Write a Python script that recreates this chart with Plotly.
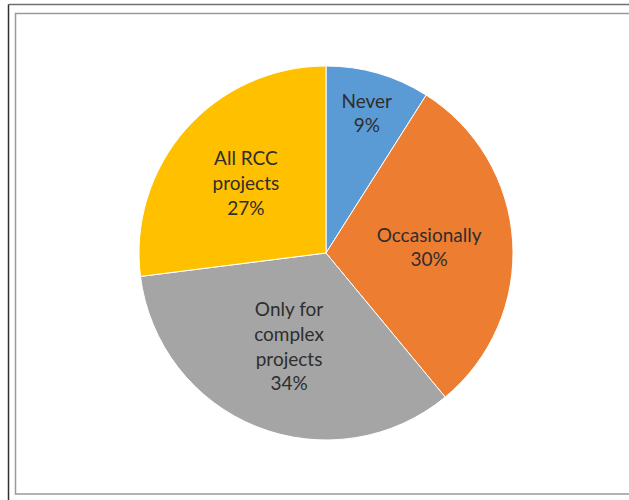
import plotly.graph_objects as go

# Survey responses: how often RCC design is used
categories = ["Never", "Occasionally", "Only for complex projects", "All RCC projects"]
label_lines = ["Never", "Occasionally", "Only for<br>complex<br>projects", "All RCC<br>projects"]
shares = [9, 30, 34, 27]
colors = ["#5B9BD5", "#ED7D31", "#A5A5A5", "#FFC000"]

W, H = 629, 500

fig = go.Figure(
    go.Pie(
        labels=categories,
        values=shares,
        text=label_lines,
        texttemplate="%{text}<br>%{percent:.0%}",
        textposition="inside",
        insidetextorientation="horizontal",
        textfont=dict(family="Lato, Carlito, sans-serif", size=19, color="#2E2E2E"),
        marker=dict(colors=colors, line=dict(color="#FFFFFF", width=1)),
        sort=False,
        direction="clockwise",
        rotation=0,
        showlegend=False,
        hoverinfo="label+percent",
        domain=dict(x=[(326 - 187) / W, (326 + 187) / W],
                    y=[1 - 440 / H, 1 - 66 / H]),
    )
)

# Outer frame lines and inner chart-area border
shapes = [
    dict(type="line", xref="paper", yref="paper",
         x0=8.5 / W, x1=1, y0=1 - 4.5 / H, y1=1 - 4.5 / H,
         line=dict(color="#707070", width=1.5)),
    dict(type="line", xref="paper", yref="paper",
         x0=8.5 / W, x1=8.5 / W, y0=0, y1=1 - 4.5 / H,
         line=dict(color="#303030", width=1.5)),
    dict(type="rect", xref="paper", yref="paper",
         x0=15.5 / W, x1=1.05, y0=1 - 494 / H, y1=1 - 13.5 / H,
         line=dict(color="#9A9A9A", width=1.5)),
]

fig.update_layout(
    width=W, height=H,
    margin=dict(l=0, r=0, t=0, b=0),
    paper_bgcolor="#FFFFFF",
    plot_bgcolor="#FFFFFF",
    shapes=shapes,
)

fig.write_html("out.html")
